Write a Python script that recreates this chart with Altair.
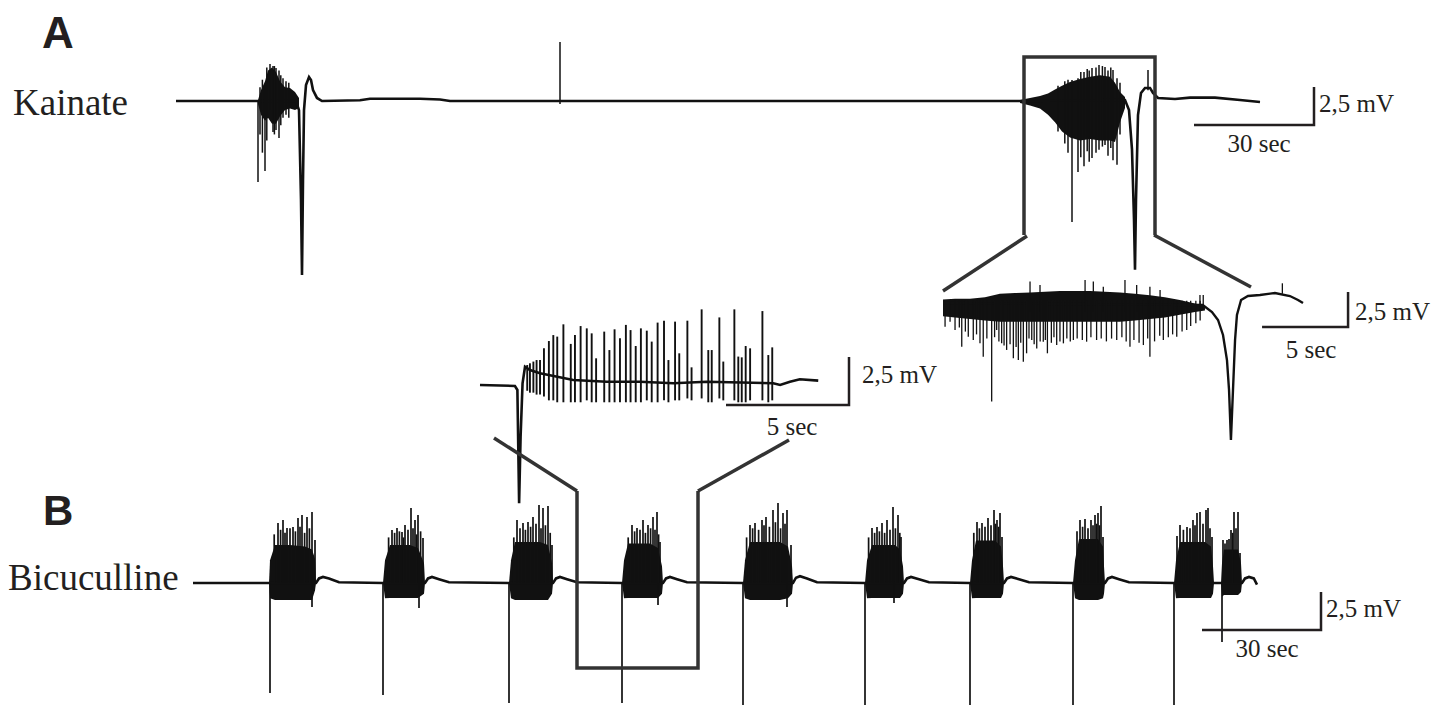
import altair as alt
import pandas as pd

# ---------------- A: Kainate, full recording (t in s, v in mV re. baseline) ----------------
ka_line_t = [0, 20.5, 30.0, 30.75, 31.25, 31.5, 31.75, 32.0, 32.5, 33.25, 33.75, 34.25, 35.25, 36.5,
             46, 48.5, 61, 66, 68.5, 211, 237.25, 238.25, 239.0, 239.5, 239.75, 240.0, 240.5, 241.25,
             242.25, 243.5, 244.25, 245.5, 249.75, 253.5, 259.75, 266, 271]
ka_line_v = [0, 0, 0, -0.6, -6.5, -11.45, -5.2, -0.6, 1.05, 1.58, 1.38, 0.72, 0.2, 0,
             0.05, 0.15, 0.15, 0.1, 0, 0, 0.07, -0.6, -3.2, -7.8, -11.1, -6.5, -0.92, 0.53,
             0.86, 0.86, 0.53, 0.2, 0.13, 0.22, 0.22, 0.07, -0.07]
ka_env_t = [[20.5, 21.25, 22.25, 23, 24, 25, 26, 27.25, 28.5, 29.75, 30.75],
            [211, 213.5, 216, 218, 219.75, 221.5, 223.5, 226, 228.5, 231, 233.5, 234.75, 236, 237.25]]
ka_env_hi = [[0.07, 0.7, 1.3, 2.0, 2.2, 1.9, 1.3, 0.9, 0.85, 0.6, 0.2],
             [0.07, 0.2, 0.33, 0.5, 0.75, 1.0, 1.25, 1.45, 1.6, 1.7, 1.6, 1.2, 0.6, 0.26]]
ka_env_lo = [[-0.2, -0.9, -1.3, -1.1, -1.5, -1.5, -1.0, -0.6, -0.5, -0.6, -0.46],
             [-0.13, -0.3, -0.5, -0.9, -1.4, -2.0, -2.4, -2.6, -2.5, -2.6, -2.6, -2.7, -1.4, -0.46]]
ka_spk_t = [20.5, 22.25, 23.5, 24.25, 25, 25.75, 26.75, 96,
            224, 225.5, 227, 229, 230.75, 232.25, 234.25, 235.25, 243,
            21.0, 21.6, 22.7, 24.6, 26.2, 27.5, 28.2,
            220.5, 222.2, 223.0, 226.2, 227.8, 228.3, 230.0, 231.6, 233.0, 233.7, 236.0]
ka_spk_hi = [0, 1.0, 2.43, 2.3, 2.17, 2.0, 1.5, 3.88,
             1.38, 1.5, 1.9, 2.17, 2.37, 2.24, 2.04, 1.5, 2.04,
             0.9, 1.4, 2.2, 2.3, 1.7, 1.3, 1.2,
             1.0, 1.3, 1.4, 1.9, 2.1, 2.0, 2.2, 2.3, 2.0, 2.2, 1.2]
ka_spk_lo = [-5.33, -4.6, -0.6, -2.04, -1.9, -2.43, -1.1, -0.2,
             -7.96, -4.67, -4.3, -3.75, -3.2, -2.9, -3.9, -4.2, 0.7,
             -2.2, -3.4, -2.6, -2.2, -1.6, -0.9, -1.1,
             -2.0, -2.8, -3.4, -3.7, -3.3, -4.0, -3.4, -3.0, -3.6, -3.1, -2.2]
ka_box_t = [212, 212, 244.75, 244.75]
ka_box_v = [-8.82, 2.89, 2.89, -8.82]
ka_bar_t = [254.5, 284.5, 284.5]   # 30 s
ka_bar_v = [-1.58, -1.58, 0.92]    # 2.5 mV

# ---------------- A inset: Kainate, expanded (5 s scale) ----------------
kz_line_t = [0, 15.1, 15.64, 15.99, 16.28, 16.51, 16.63, 16.74, 16.86, 16.98, 17.09, 17.33, 17.73,
             18.43, 19.3, 20.17, 20.64, 20.93]
kz_line_v = [0.14, 0, -0.5, -1.07, -2.14, -3.93, -6.07, -9.64, -6.07, -2.5, -0.71, 0.36, 0.64,
             0.71, 0.86, 0.64, 0.36, 0.14]
kz_env_t = [[0, 0.7, 1.57, 2.44, 3.31, 4.19, 5.06, 5.93, 6.8, 7.67, 8.55, 9.42, 10.29, 11.16, 12.03,
             12.9, 13.77, 14.65, 15.23]]
kz_env_hi = [[0.4, 0.45, 0.45, 0.55, 0.8, 0.85, 0.9, 0.95, 1.0, 1.0, 1.0, 0.95, 0.9, 0.8, 0.7, 0.55,
              0.35, 0.1, -0.1]]
kz_env_lo = [[-0.8, -0.9, -1.0, -1.1, -1.2, -1.2, -1.2, -1.2, -1.2, -1.2, -1.2, -1.2, -1.2, -1.1,
              -1.0, -0.9, -0.7, -0.5, -0.4]]
kz_spk_t = [0.12, 0.41, 0.70, 1.09, 1.47, 1.76, 2.15, 2.34, 2.83, 3.12, 3.41, 3.70, 4.09, 4.38, 4.67,
            4.86, 5.16, 5.45, 5.83, 6.07, 6.61, 7.0, 7.58, 8.35, 8.93, 10.1, 10.87, 11.65, 12.03, 12.81,
            13.59, 14.17,
            0.95, 1.3, 1.95, 2.55, 3.0, 3.25, 3.55, 3.9, 4.25, 4.52, 5.0, 5.3, 5.65, 5.95, 6.3, 6.45,
            6.8, 7.2, 7.4, 7.8, 8.1, 8.6, 9.2, 9.5, 9.8, 10.4, 10.65, 11.1, 11.4, 11.9, 12.3, 12.6,
            13.1, 13.35, 13.9, 14.4, 14.7, 14.95,
            5.06, 5.64, 8.26, 8.74, 9.32, 10.58, 11.26, 12.03, 12.62, 14.94, 15.13, 19.73]
kz_spk_hi = [0.3] * 70 + [1.67, 1.43, 1.79, 1.67, 1.31, 1.79, 1.43, 1.31, 1.07, 0.71, 0.71, 1.55]
kz_spk_lo = [-1.55, -1.19, -1.79, -2.98, -2.26, -2.5, -2.74, -3.69, -6.9, -1.79, -2.74, -3.21, -3.81,
             -3.93, -4.05, -3.45, -2.5, -3.1, -2.62, -3.45, -2.86, -2.74, -2.5, -2.62, -2.5, -2.5, -2.98,
             -2.86, -3.69, -2.5, -2.26, -1.79,
             -1.6, -1.9, -2.1, -2.4, -2.3, -2.6, -2.9, -2.8, -3.0, -2.7, -2.4, -2.8, -2.6, -2.5, -2.7,
             -2.3, -2.6, -2.4, -2.6, -2.4, -2.5, -2.3, -2.4, -2.6, -2.4, -2.3, -2.6, -2.5, -2.7, -2.4,
             -2.6, -2.2, -2.3, -2.1, -1.9, -1.5, -1.3, -1.1,
             -0.5, -0.5, -0.5, -0.5, -0.5, -0.5, -0.5, -0.5, -0.5, -0.3, -0.3, 0.8]
kz_bar_t = [18.55, 23.55, 23.55]   # 5 s
kz_bar_v = [-1.57, -1.57, 0.93]    # 2.5 mV

# ---------------- B inset: Bicuculline, expanded (5 s scale) ----------------
bz_line_t = [0, 1.42, 1.52, 1.59, 1.65, 1.73, 1.83, 2.03, 2.44, 3.79, 5.15, 6.5, 7.86, 9.21, 11.92,
             12.2, 12.6, 13.0, 13.75]
bz_line_v = [0, -0.05, -0.26, -6.16, -2.69, 0.09, 0.95, 0.78, 0.61, 0.26, 0.17, 0.17, 0.09, 0.17,
             0.09, 0, 0.17, 0.3, 0.23]
bz_spk_t = [1.92, 2.03, 2.17, 2.30, 2.44, 2.60, 2.80, 2.98, 3.14, 3.39,
            3.69, 3.86, 4.09, 4.34, 4.54, 4.72, 5.05, 5.26, 5.47, 5.69,
            5.93, 6.12, 6.33, 6.54, 6.78, 6.98, 7.22, 7.48, 7.66, 7.93,
            8.10, 8.43, 8.60, 9.01, 9.28, 9.42, 9.73, 9.89, 10.34, 10.50,
            10.64, 10.80, 10.98, 11.48, 11.72, 11.88]
bz_spk_hi = [1.04, 1.13, 1.22, 1.30, 1.30, 1.91, 2.29, 2.60, 2.52, 3.16,
             2.14, 2.60, 3.07, 2.95, 2.69, 1.39, 2.78, 1.82, 2.90, 2.43,
             3.13, 2.86, 2.03, 2.95, 2.83, 2.26, 3.25, 3.35, 1.30, 3.30,
             1.65, 3.35, 0.92, 3.94, 1.82, 1.82, 3.52, 1.22, 3.94, 1.48,
             1.44, 2.03, 1.91, 3.85, 1.56, 1.96]
bz_spk_lo = [-0.3, -0.4, -0.4, -0.5, -0.5, -0.6, -0.8, -0.8, -0.9, -0.9,
             -0.9, -0.9, -0.9, -0.8, -0.9, -0.9, -0.9, -0.9, -0.9, -0.9,
             -0.9, -0.9, -0.9, -0.9, -0.8, -0.9, -0.9, -0.8, -0.9, -0.8,
             -0.8, -0.7, -0.8, -0.7, -0.9, -0.9, -0.7, -0.8, -0.8, -0.9,
             -0.9, -0.9, -0.8, -0.8, -0.9, -0.8]
bz_bar_t = [10.0, 15.0, 15.0]
bz_bar_v = [-1.04, -1.04, 1.46]

# ---------------- B: Bicuculline, full recording ----------------
bi_line_t = [0, 19, 30.75, 31.5, 32.5, 34, 36.5, 47.5, 58, 58.75, 59.75, 61.5, 64, 79, 90, 90.75,
             91.75, 93.5, 96, 107.25, 117.5, 118.25, 119.25, 121, 123.5, 137.5, 150, 150.75, 151.75,
             153.5, 156, 168, 177.75, 178.5, 179.5, 181.5, 184, 194.25, 202.75, 203.5, 204.5, 206.5,
             209, 220, 228, 228.75, 229.75, 231.5, 234, 245.25, 255.25, 257, 262.25, 263, 264, 265.2, 266]
bi_line_v = [0, 0, 0, 0.3, 0.4, 0.3, 0.05, 0, 0, 0.3, 0.4, 0.25, 0.05, 0, 0, 0.3,
             0.4, 0.25, 0.05, 0, 0, 0.3, 0.4, 0.25, 0.05, 0, 0, 0.35, 0.45,
             0.3, 0.05, 0, 0, 0.3, 0.4, 0.25, 0.05, 0, 0, 0.3, 0.4, 0.25,
             0.05, 0, 0, 0.3, 0.4, 0.25, 0.05, 0, 0, 0, 0, 0.3, 0.4, 0.3, -0.1]
bi_env_t = [[19.0, 19.25, 20.5, 24.25, 28.0, 29.75, 30.5, 30.75],
            [47.5, 48, 49.25, 54.25, 56.25, 57.75, 58],
            [79, 79.5, 80.5, 86.75, 88.75, 89.75, 90],
            [107.25, 107.75, 108.75, 114.25, 116.25, 117.25, 117.5],
            [137.5, 138, 139.25, 146.75, 148.75, 149.75, 150],
            [168, 168.5, 169.75, 175.5, 176.75, 177.5, 177.75],
            [194.25, 194.75, 195.75, 200.5, 202, 202.5, 202.75],
            [220, 220.5, 221.5, 226.25, 227.5, 227.75, 228],
            [245.25, 245.75, 246.75, 253, 254.5, 255, 255.25],
            [257, 257.25, 257.75, 261.25, 262, 262.25]]
bi_env_hi = [[0, 1.5, 2.5, 2.5, 2.4, 2.2, 1.6, 0],
             [0, 1.5, 2.5, 2.5, 2.3, 1.3, 0],
             [0, 1.5, 2.7, 2.7, 2.5, 1.3, 0],
             [0, 1.5, 2.6, 2.6, 2.3, 1.1, 0],
             [0, 1.5, 2.7, 2.7, 2.4, 1.1, 0],
             [0, 1.5, 2.5, 2.5, 2.2, 1.1, 0],
             [0, 1.5, 2.8, 2.8, 2.4, 1.1, 0],
             [0, 1.5, 2.9, 2.9, 2.4, 1.1, 0],
             [0, 1.5, 2.7, 2.7, 2.4, 1.1, 0],
             [0, 1.3, 2.2, 2.2, 1.3, 0]]
bi_env_lo = [[0, -1.0, -1.12, -1.12, -1.12, -1.12, -0.5, 0],
             [0, -1.0, -0.99, -0.99, -0.99, -0.7, 0],
             [0, -1.0, -1.12, -1.12, -1.12, -0.7, 0],
             [0, -1.0, -0.99, -0.99, -0.99, -0.7, 0],
             [0, -1.0, -1.12, -1.12, -1.0, -0.7, 0],
             [0, -1.0, -0.99, -0.99, -0.99, -0.7, 0],
             [0, -1.0, -0.99, -0.99, -0.99, -0.7, 0],
             [0, -1.0, -1.12, -1.12, -1.0, -0.7, 0],
             [0, -1.0, -0.99, -0.99, -0.99, -0.7, 0],
             [0, -0.9, -0.79, -0.79, -0.6, 0]]
# tallest spikes, the opening negative spike and the late downward spikes of each burst
bi_spk_t = [19.25, 21.25, 22.5, 23.5, 25, 26.25, 27.25, 28.5, 29.75, 30.5, 29.75,
            47.5, 49.75, 51, 52.25, 53, 54.5, 55.5, 56.25, 57.5, 56.5,
            79, 81, 82.5, 83.75, 85, 86.5, 87.5, 88.75, 89.75,
            107.25, 109.75, 111, 112.5, 113.75, 115, 116, 116.75, 116.25,
            137.5, 139.25, 140.5, 142.25, 143.25, 145, 146.25, 147.5, 148.5, 149.5, 148.5,
            168, 169.75, 171, 172.25, 173.5, 175, 176.25, 177, 175.25,
            194.25, 196, 197.25, 198.75, 200.25, 201, 201.75, 202.25,
            220, 221.75, 223, 224.5, 225.5, 226.25, 227, 227.5,
            245.25, 246.75, 248.5, 250, 251, 251.75, 253.25, 253.75, 254.75,
            257.25, 257.5, 258.5, 259.5, 260.25, 261.25, 261.75]
bi_spk_hi = [0, 3.95, 4.14, 3.62, 3.68, 4.28, 4.47, 4.34, 4.67, 2.83, 0,
             0, 3.49, 3.62, 3.36, 3.82, 4.93, 4.14, 4.47, 2.96, 0,
             0, 4.14, 3.95, 4.01, 4.34, 5.13, 4.93, 5.07, 2.5,
             0, 3.82, 3.62, 4.14, 3.82, 4.34, 4.67, 2.7, 0,
             0, 3.82, 3.95, 4.14, 4.34, 4.8, 5.26, 4.61, 4.8, 2.5, 0,
             0, 3.62, 3.68, 3.95, 4.14, 5.0, 4.47, 3.03, 0,
             0, 4.01, 3.95, 4.28, 4.8, 4.14, 4.61, 3.03,
             0, 4.14, 4.21, 4.14, 4.47, 4.61, 5.07, 3.03,
             0, 3.82, 3.68, 4.14, 4.61, 4.67, 4.8, 4.93, 3.03,
             0, 2.83, 2.83, 3.49, 4.67, 4.67, 1.97]
bi_spk_lo = [-7.24, 0, 0, 0, 0, 0, 0, 0, 0, 0, -1.58,
             -7.37, 0, 0, 0, 0, 0, 0, 0, 0, -1.64,
             -7.89, 0, 0, 0, 0, 0, 0, 0, 0,
             -7.89, 0, 0, 0, 0, 0, 0, 0, -1.45,
             -8.22, 0, 0, 0, 0, 0, 0, 0, 0, 0, -1.58,
             -8.22, 0, 0, 0, 0, 0, 0, 0, -1.32,
             -8.22, 0, 0, 0, 0, 0, 0, 0,
             -8.36, 0, 0, 0, 0, 0, 0, 0,
             -8.49, 0, 0, 0, 0, 0, 0, 0, 0,
             -3.88, 0, 0, 0, 0, 0, 0]
# smaller spikes between the tallest ones (they rise from the burst block)
bi_small_t = [20.3, 21.9, 23.0, 24.25, 25.6, 26.75, 27.9, 29.1,
              48.9, 50.4, 51.6, 52.6, 53.75, 55.0, 55.9, 56.9,
              80.2, 81.75, 83.1, 84.4, 85.75, 87.0, 88.1, 89.3,
              108.8, 110.4, 111.75, 113.1, 114.4, 115.5, 116.4,
              138.4, 139.9, 141.4, 142.75, 144.1, 145.6, 146.9, 148.0,
              168.9, 170.4, 171.6, 172.9, 174.25, 175.6, 176.7,
              195.2, 196.6, 198.0, 199.5, 200.6, 201.4,
              221.0, 222.4, 223.75, 225.0, 225.9, 226.6,
              246.0, 247.6, 249.25, 250.5, 252.5, 254.25,
              258.0, 259.0, 259.9, 260.75]
bi_small_hi = [3.2, 3.5, 3.3, 3.6, 3.4, 3.7, 3.3, 3.6,
               3.0, 3.3, 3.4, 3.0, 3.5, 3.6, 3.2, 3.4,
               3.0, 3.6, 3.5, 3.7, 3.9, 3.6, 3.8, 3.3,
               3.0, 3.4, 3.5, 3.3, 3.6, 3.5, 3.2,
               3.0, 3.6, 3.5, 3.8, 3.7, 4.0, 3.6, 3.9,
               3.0, 3.3, 3.4, 3.3, 3.5, 3.6, 3.3,
               3.3, 3.6, 3.7, 3.8, 3.9, 3.7,
               3.4, 3.7, 3.6, 3.8, 3.9, 3.8,
               3.1, 3.5, 3.6, 3.8, 3.9, 3.6,
               2.6, 2.9, 3.3, 3.6]
bi_box_t = [96, 96, 126.25, 126.25]
bi_box_v = [6.05, -5.59, -5.59, 6.05]
bi_bar_t = [252.25, 282, 282]
bi_bar_v = [-3.09, -3.09, -0.59]

# ---------------- page layout (pixels) ----------------
# origin (x at t=0, y at v=0), pixels per second, pixels per mV
PLACE = {
    "ka": (176, 101, 4.0, 15.2),
    "kz": (943, 305, 17.2, 14.0),
    "bz": (480, 385, 24.6, 19.2),
    "bi": (193, 583, 4.0, 15.2),
}
conn_x1 = [1027, 1154, 577, 698]
conn_y1 = [236, 235, 491, 491]
conn_x2 = [943, 1251, 494, 789]
conn_y2 = [291, 287, 438, 440]

XS = alt.Scale(domain=[8, 1443], nice=False, zero=False)
YS = alt.Scale(domain=[8, 705], nice=False, zero=False, reverse=True)
INK = "#111111"
BOX = "#333333"
TXT = "#231f20"


def X(f="X"):
    return alt.X(f + ":Q", scale=XS, axis=None)


def Y(f="Y"):
    return alt.Y(f + ":Q", scale=YS, axis=None)


def placed(df, key, ycols):
    x0, y0, sx, sy = PLACE[key]
    ch = alt.Chart(df).transform_calculate(X=f"{x0} + datum.t * {sx}")
    for src, dst in ycols:
        ch = ch.transform_calculate(**{dst: f"{y0} - datum.{src} * {sy}"})
    return ch


def line_layer(key, t, v, width=2.6, color=INK):
    df = pd.DataFrame({"t": t, "v": v, "i": range(len(t))})
    return placed(df, key, [("v", "Y")]).mark_line(
        color=color, strokeWidth=width, strokeJoin="miter").encode(
        x=X(), y=Y(), order=alt.Order("i:Q"))


def env_layer(key, ts, his, los):
    rows = []
    for b, (tt, hh, ll) in enumerate(zip(ts, his, los)):
        for a, h, l in zip(tt, hh, ll):
            rows.append({"t": a, "hi": h, "lo": l, "burst": b})
    df = pd.DataFrame(rows)
    return placed(df, key, [("hi", "Yh"), ("lo", "Yl")]).mark_area(
        color=INK, opacity=1).encode(x=X(), y=Y("Yh"), y2="Yl:Q", detail="burst:N")


def spike_layer(key, t, hi, lo=None, width=1.3):
    df = pd.DataFrame({"t": t, "hi": hi})
    df["lo"] = lo if lo is not None else 0.0
    return placed(df, key, [("hi", "Yh"), ("lo", "Yl")]).mark_rule(
        color=INK, strokeWidth=width).encode(x=X(), y=Y("Yh"), y2="Yl:Q")


layers = []
# Kainate full
layers += [env_layer("ka", ka_env_t, ka_env_hi, ka_env_lo),
           line_layer("ka", ka_line_t, ka_line_v),
           spike_layer("ka", ka_spk_t, ka_spk_hi, ka_spk_lo, width=1.5),
           line_layer("ka", ka_box_t, ka_box_v, width=3.5, color=BOX),
           line_layer("ka", ka_bar_t, ka_bar_v, width=2.5, color=TXT)]
# Kainate zoom
layers += [env_layer("kz", kz_env_t, kz_env_hi, kz_env_lo),
           line_layer("kz", kz_line_t, kz_line_v, width=2.4),
           spike_layer("kz", kz_spk_t, kz_spk_hi, kz_spk_lo, width=1.3),
           line_layer("kz", kz_bar_t, kz_bar_v, width=2.5, color=TXT)]
# Bicuculline zoom
layers += [line_layer("bz", bz_line_t, bz_line_v, width=2.6),
           spike_layer("bz", bz_spk_t, bz_spk_hi, bz_spk_lo, width=1.9),
           line_layer("bz", bz_bar_t, bz_bar_v, width=2.5, color=TXT)]
# Bicuculline full
layers += [env_layer("bi", bi_env_t, bi_env_hi, bi_env_lo),
           line_layer("bi", bi_line_t, bi_line_v),
           spike_layer("bi", bi_spk_t, bi_spk_hi, bi_spk_lo, width=1.7),
           spike_layer("bi", bi_small_t, bi_small_hi, width=1.7),
           line_layer("bi", bi_box_t, bi_box_v, width=3.5, color=BOX),
           line_layer("bi", bi_bar_t, bi_bar_v, width=2.5, color=TXT)]

# connectors between boxes and insets
conn = pd.DataFrame({"x": conn_x1, "y": conn_y1, "x2": conn_x2, "y2": conn_y2})
layers.append(alt.Chart(conn).mark_rule(color=BOX, strokeWidth=3.5).encode(
    x=X("x"), y=Y("y"), x2="x2:Q", y2="y2:Q"))

# text
panel_lbl = pd.DataFrame({"label": ["A", "B"], "x": [42, 43], "y": [48, 525], "s": [44, 42]})
trace_lbl = pd.DataFrame({"label": ["Kainate", "Bicuculline"], "x": [13, 8], "y": [115, 590]})
mv_lbl = pd.DataFrame({"label": ["2,5 mV"] * 4, "x": [1319, 1355, 862, 1326],
                       "y": [112, 320, 383, 617]})
sec_lbl = pd.DataFrame({"label": ["30 sec", "5 sec", "5 sec", "30 sec"],
                        "x": [1259, 1311, 792, 1267], "y": [152, 358, 435, 657]})

layers.append(alt.Chart(panel_lbl).mark_text(
    font="Liberation Sans", fontWeight="bold", align="left", baseline="alphabetic", color=TXT).encode(
    x=X("x"), y=Y("y"), text="label:N", size=alt.Size("s:Q", scale=None, legend=None)))
layers.append(alt.Chart(trace_lbl).mark_text(
    font="Liberation Serif", fontSize=37, align="left", baseline="alphabetic", color=TXT).encode(
    x=X("x"), y=Y("y"), text="label:N"))
layers.append(alt.Chart(mv_lbl).mark_text(
    font="Liberation Serif", fontSize=25, align="left", baseline="alphabetic", color=TXT).encode(
    x=X("x"), y=Y("y"), text="label:N"))
layers.append(alt.Chart(sec_lbl).mark_text(
    font="Liberation Serif", fontSize=25, align="center", baseline="alphabetic", color=TXT).encode(
    x=X("x"), y=Y("y"), text="label:N"))

chart = alt.layer(*layers).properties(
    width=1435, height=697, padding=0, autosize="none", background="white"
).configure_view(stroke=None)

chart.save("out.html", embed_options={"renderer": "svg", "actions": False})
